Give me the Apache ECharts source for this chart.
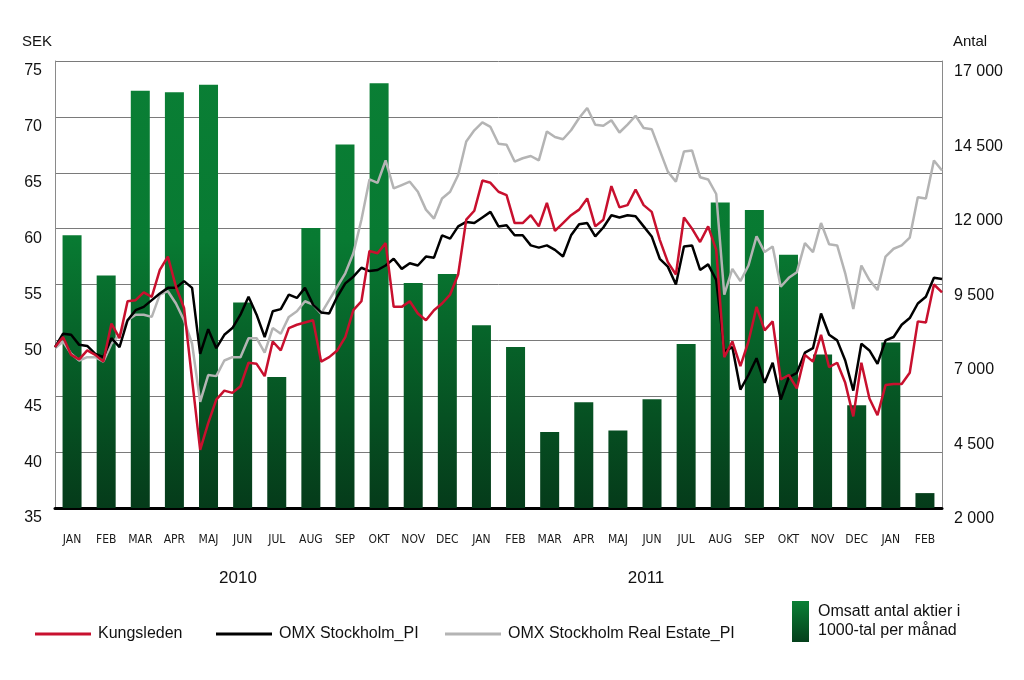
<!DOCTYPE html>
<html>
<head>
<meta charset="utf-8">
<script src="https://cdn.jsdelivr.net/npm/echarts@6/dist/echarts.min.js"></script>
<style>html,body{margin:0;padding:0;background:#fff}#c{width:1024px;height:680px}</style>
</head>
<body>
<div id="c"></div>
<script>
// ---- data ----
const months = ['JAN','FEB','MAR','APR','MAJ','JUN','JUL','AUG','SEP','OKT','NOV','DEC',
                'JAN','FEB','MAR','APR','MAJ','JUN','JUL','AUG','SEP','OKT','NOV','DEC',
                'JAN','FEB'];
const years = ['2010', '2011'];
// Omsatt antal aktier i 1000-tal per månad
const volume = [11150, 9800, 16000, 15950, 16200, 8900, 6400, 11400, 14200, 16250, 9550, 9850,
                8130, 7400, 4550, 5550, 4600, 5650, 7500, 12250, 12000, 10500, 7150, 5450,
                7550, 2500];
// weekly prices (SEK)
const kungsleden = [
 49.4, 50.3, 48.7, 48.3, 49.1, 48.7, 48.1, 51.5, 50.2, 53.5,
 53.6, 54.3, 53.9, 56.3, 57.5, 54.8, 52.9, 46.5, 40.2, 42.6,
 44.7, 45.5, 45.3, 45.9, 48.0, 47.9, 46.8, 49.9, 49.1, 51.1,
 51.4, 51.6, 51.8, 48.1, 48.5, 49.1, 50.3, 52.7, 53.5, 58.0,
 57.8, 58.7, 53.0, 53.0, 53.5, 52.4, 51.8, 52.7, 53.3, 54.1,
 55.9, 60.8, 61.6, 64.3, 64.1, 63.3, 63.0, 60.5, 60.5, 61.2,
 60.2, 62.3, 59.8, 60.5, 61.2, 61.7, 62.7, 60.2, 60.8, 63.8,
 61.9, 62.1, 63.5, 62.1, 61.5, 59.0, 57.0, 55.9, 61.0, 60.0,
 58.8, 60.2, 58.1, 48.5, 49.9, 47.7, 49.9, 53.0, 50.9, 51.7,
 46.5, 46.9, 45.7, 48.7, 48.1, 50.5, 47.6, 48.0, 46.2, 43.2,
 48.0, 44.8, 43.3, 46.0, 46.1, 46.1, 47.1, 51.7, 51.6, 55.0, 54.3];
const omxPI = [
 49.4, 50.6, 50.5, 49.6, 49.5, 48.8, 48.5, 50.2, 49.4, 51.8,
 52.7, 53.0, 53.6, 54.2, 54.7, 54.7, 55.3, 54.7, 48.8, 51.0,
 49.3, 50.5, 51.1, 52.3, 53.9, 52.3, 50.3, 52.6, 52.8, 54.1,
 53.8, 54.7, 53.2, 52.5, 52.4, 53.9, 55.1, 55.7, 56.5, 56.2,
 56.3, 56.7, 57.3, 56.4, 56.9, 56.7, 57.5, 57.4, 59.4, 59.1,
 60.2, 60.6, 60.5, 61.0, 61.5, 60.2, 60.3, 59.4, 59.4, 58.5,
 58.3, 58.5, 58.1, 57.5, 59.4, 60.4, 60.5, 59.3, 60.1, 61.2,
 61.0, 61.2, 61.1, 60.2, 59.3, 57.3, 56.6, 55.0, 58.4, 58.5,
 56.3, 56.8, 55.4, 49.0, 49.4, 45.6, 46.9, 48.4, 46.2, 48.0,
 44.7, 46.7, 47.1, 48.9, 49.3, 52.4, 50.5, 50.0, 48.2, 45.5,
 49.7, 49.1, 47.9, 50.0, 50.3, 51.4, 52.0, 53.3, 53.9, 55.6, 55.5];
const omxRealEstate = [
 49.3, 49.9, 48.8, 48.2, 48.5, 48.5, 48.1, 49.7, 50.5, 51.8,
 52.3, 52.3, 52.1, 54.1, 54.4, 53.3, 51.8, 49.7, 44.5, 46.9,
 46.8, 48.2, 48.5, 48.5, 50.2, 50.2, 48.9, 51.1, 50.6, 52.1,
 52.6, 53.5, 53.2, 52.4, 53.6, 54.8, 56.0, 57.8, 60.8, 64.4,
 64.1, 66.1, 63.6, 63.9, 64.2, 63.3, 61.7, 60.9, 62.7, 63.3,
 64.8, 67.8, 68.8, 69.5, 69.1, 67.6, 67.5, 66.0, 66.3, 66.5,
 66.1, 68.7, 68.2, 68.0, 68.8, 69.9, 70.8, 69.3, 69.2, 69.7,
 68.6, 69.3, 70.1, 69.0, 68.9, 67.0, 65.1, 64.2, 66.9, 67.0,
 64.6, 64.4, 63.1, 54.1, 56.4, 55.3, 56.7, 59.3, 57.9, 58.4,
 54.8, 55.6, 56.1, 58.7, 57.9, 60.5, 58.6, 58.5, 56.0, 52.8,
 56.7, 55.4, 54.5, 57.5, 58.2, 58.5, 59.2, 62.8, 62.7, 66.1, 65.2];
const names = ['Kungsleden', 'OMX Stockholm_PI', 'OMX Stockholm Real Estate_PI',
               'Omsatt antal aktier i 1000-tal per månad'];

// ---- chart ----
const FONT = "'Liberation Sans', Arial, sans-serif";
const NARROW = "'Liberation Sans Narrow', 'DejaVu Sans Condensed', 'Liberation Sans', sans-serif";
const chart = echarts.init(document.getElementById('c'), null, {renderer: 'canvas'});
const fmtThousands = v => String(v).replace(/\B(?=(\d{3})+(?!\d))/g, ' ');
const barGradient = {type: 'linear', x: 0, y: 61, x2: 0, y2: 508, global: true,
  colorStops: [{offset: 0, color: '#0a7f35'}, {offset: 0.4, color: '#087a32'}, {offset: 1, color: '#053b1a'}]};
const legendGradient = {type: 'linear', x: 0, y: 0, x2: 0, y2: 1,
  colorStops: [{offset: 0, color: '#0a8035'}, {offset: 1, color: '#05401c'}]};
const toPairs = arr => arr.map((v, i) => [i, v]);
const legendText = {fontSize: 16, fontFamily: FONT, color: '#111', padding: [0, 0, 0, 2]};

chart.setOption({
  animation: false,
  backgroundColor: '#fff',
  grid: {left: 55, right: 82, top: 61, bottom: 172, containLabel: false},
  xAxis: [
    {type: 'category', data: months, boundaryGap: true,
     axisLine: {show: true, lineStyle: {color: '#000', width: 3}},
     axisTick: {show: false},
     axisLabel: {interval: 0, margin: 26, fontSize: 12, fontFamily: NARROW, color: '#1a1a1a'},
     splitLine: {show: false}},
    {type: 'value', min: 0, max: kungsleden.length - 1, show: false}
  ],
  yAxis: [
    {type: 'value', min: 35, max: 75, interval: 5, position: 'left',
     axisLine: {show: true, lineStyle: {color: '#8a8a8a', width: 1}},
     axisTick: {show: false},
     axisLabel: {margin: 13, fontSize: 16, fontFamily: FONT, color: '#111', verticalAlign: 'top', lineHeight: 20},
     splitLine: {show: true, lineStyle: {color: '#7a7a7a', width: 1}}},
    {type: 'value', min: 2000, max: 17000, interval: 2500, position: 'right',
     axisLine: {show: true, lineStyle: {color: '#8a8a8a', width: 1}},
     axisTick: {show: false},
     axisLabel: {margin: 12, fontSize: 16, fontFamily: FONT, color: '#111', verticalAlign: 'top', lineHeight: 22,
                 formatter: fmtThousands},
     splitLine: {show: false}}
  ],
  legend: [
    {data: [names[0]], left: 35, top: 626, padding: 0, icon: 'rect', itemWidth: 56, itemHeight: 3, textStyle: legendText},
    {data: [names[1]], left: 216, top: 626, padding: 0, icon: 'rect', itemWidth: 56, itemHeight: 3, textStyle: legendText},
    {data: [names[2]], left: 445, top: 626, padding: 0, icon: 'rect', itemWidth: 56, itemHeight: 3, textStyle: legendText},
    {data: [{name: names[3], itemStyle: {color: legendGradient}}], left: 792, top: 601, padding: 0, icon: 'rect',
     itemWidth: 17, itemHeight: 41,
     textStyle: Object.assign({}, legendText, {lineHeight: 19, padding: [0, 0, 0, 4]}),
     formatter: n => n.replace(' i ', ' i\n')}
  ],
  graphic: [
    {type: 'text', x: 22, y: 42, style: {text: 'SEK', fontSize: 15, fontFamily: FONT, fill: '#111', verticalAlign: 'middle'}},
    {type: 'text', x: 953, y: 42, style: {text: 'Antal', fontSize: 15, fontFamily: FONT, fill: '#111', verticalAlign: 'middle'}},
    {type: 'text', x: 238, y: 578, style: {text: years[0], fontSize: 17, fontFamily: FONT, fill: '#111', align: 'center', verticalAlign: 'middle'}},
    {type: 'text', x: 646, y: 578, style: {text: years[1], fontSize: 17, fontFamily: FONT, fill: '#111', align: 'center', verticalAlign: 'middle'}}
  ],
  series: [
    {name: names[3], type: 'bar', xAxisIndex: 0, yAxisIndex: 1, data: volume, barWidth: 19,
     itemStyle: {color: barGradient}, z: 1},
    {name: names[2], type: 'line', xAxisIndex: 1, yAxisIndex: 0, data: toPairs(omxRealEstate),
     showSymbol: false, symbol: 'none', lineStyle: {color: '#b4b4b4', width: 2.5}, itemStyle: {color: '#b4b4b4'}, z: 3},
    {name: names[1], type: 'line', xAxisIndex: 1, yAxisIndex: 0, data: toPairs(omxPI),
     showSymbol: false, symbol: 'none', lineStyle: {color: '#000000', width: 2.5}, itemStyle: {color: '#000000'}, z: 4},
    {name: names[0], type: 'line', xAxisIndex: 1, yAxisIndex: 0, data: toPairs(kungsleden),
     showSymbol: false, symbol: 'none', lineStyle: {color: '#c8102e', width: 2.5}, itemStyle: {color: '#c8102e'}, z: 5}
  ]
});
</script>
</body>
</html>
